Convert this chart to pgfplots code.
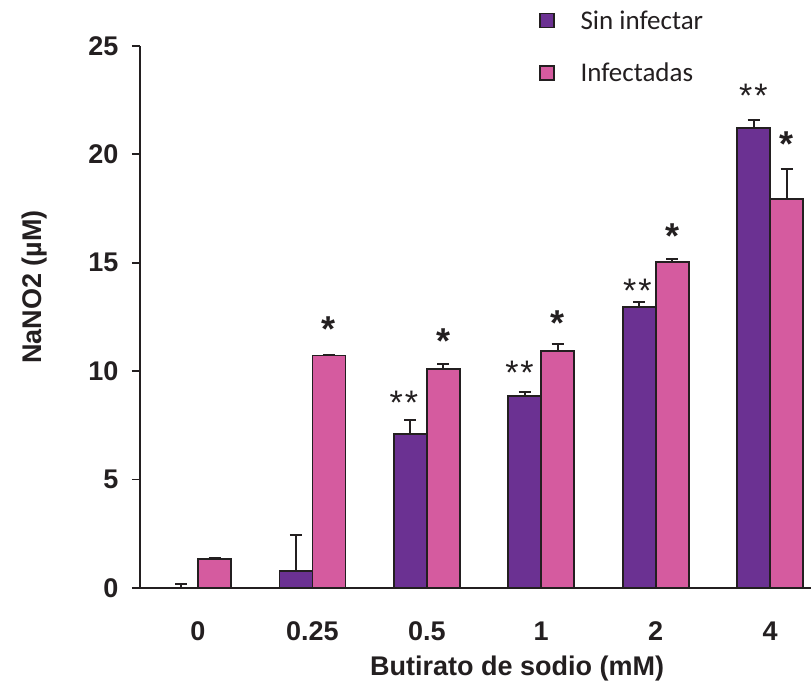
\documentclass[border=0pt]{standalone}
\usepackage{pgfplots}
\usepackage{pgfplotstable}
\pgfplotsset{compat=1.18}
\usepackage{fontspec}
\setmainfont{Liberation Sans}
\newfontfamily\carlito{Carlito}
\definecolor{barpurple}{HTML}{6B3192}
\definecolor{barpink}{HTML}{D55B9F}
\definecolor{ink}{HTML}{231F20}

\pgfplotstableread{
x y e
0 0.00 0.18
1 0.80 1.64
2 7.10 0.65
3 8.87 0.18
4 12.96 0.22
5 21.20 0.37
}\sininf
\pgfplotstableread{
x y e
0 1.34 0.03
1 10.72 0.03
2 10.09 0.24
3 10.93 0.32
4 15.04 0.15
5 17.94 1.40
}\infect

\begin{document}
\begin{tikzpicture}
\useasboundingbox (0,0) rectangle (811bp,681bp);
\begin{axis}[
  at={(140bp,93bp)}, anchor=south west,
  scale only axis, width=671bp, height=542bp,
  xmin=-0.507, xmax=5.358, ymin=0, ymax=25,
  axis x line*=bottom, axis y line*=left,
  axis line style={ink, line width=1.8bp},
  ytick={0,5,...,25},
  xtick={0,...,5}, xticklabels={0,0.25,0.5,1,2,4},
  tick align=outside, major tick length=8bp,
  ytick style={ink, line width=1.8bp}, xtick style={draw=none},
  ticklabel style={font=\fontsize{27bp}{30bp}\selectfont\bfseries, text=ink},
  xticklabel style={yshift=-22bp},
  yticklabel style={xshift=-10bp},
  /pgf/number format/assume math mode=true,
  ybar, bar width=0.2885,
  xlabel={Butirato de sodio (mM)},
  ylabel={NaNO2 (µM)},
  label style={font=\fontsize{27bp}{30bp}\selectfont\bfseries, text=ink},
  xlabel style={at={(axis description cs:0.562,-0.149)}, anchor=center},
  ylabel style={at={(axis description cs:-0.1565,0.555)}, anchor=center},
  legend style={at={(axis description cs:0.590,1.073)}, anchor=north west,
    draw=none, fill=none, font=\fontsize{27bp}{30bp}\selectfont\carlito,
    row sep=28bp, text=ink,
    /tikz/every odd column/.append style={column sep=24bp}},
  legend cell align=left,
  legend image code/.code={\draw[#1, draw=ink, line width=1.5bp] (0bp,-7bp) rectangle (14bp,7bp);},
  clip=false,
]
\addplot[fill=barpurple, draw=ink, line width=1.8bp, bar shift=-0.1443,
  error bars/.cd, y dir=plus, y explicit,
  error bar style={draw=ink, line width=2bp},
  error mark options={draw=ink, line width=2bp, mark size=6bp, rotate=90}]
  table[x=x, y=y, y error=e] {\sininf};
\addlegendentry{Sin infectar}
\addplot[fill=barpink, draw=ink, line width=1.8bp, bar shift=0.1443,
  error bars/.cd, y dir=plus, y explicit,
  error bar style={draw=ink, line width=2bp},
  error mark options={draw=ink, line width=2bp, mark size=6bp, rotate=90}]
  table[x=x, y=y, y error=e] {\infect};
\addlegendentry{Infectadas}

% significance markers
\begin{scope}[every node/.style={text=ink, inner sep=0pt, anchor=base}]
\node[font=\fontsize{36bp}{40bp}\selectfont\bfseries] at (axis cs:1.1443,11.37) {*};
\node[font=\fontsize{36bp}{40bp}\selectfont\bfseries] at (axis cs:2.1443,10.81) {*};
\node[font=\fontsize{36bp}{40bp}\selectfont\bfseries] at (axis cs:3.1443,11.64) {*};
\node[font=\fontsize{36bp}{40bp}\selectfont\bfseries] at (axis cs:4.1443,15.65) {*};
\node[font=\fontsize{36bp}{40bp}\selectfont\bfseries] at (axis cs:5.1443,19.90) {*};
\node[font=\fontsize{34bp}{38bp}\selectfont] at (axis cs:1.8,8.00) {*\kern2bp*};
\node[font=\fontsize{34bp}{38bp}\selectfont] at (axis cs:2.81,9.39) {*\kern2bp*};
\node[font=\fontsize{34bp}{38bp}\selectfont] at (axis cs:3.84,13.19) {*\kern2bp*};
\node[font=\fontsize{34bp}{38bp}\selectfont] at (axis cs:4.855,22.18) {*\kern2bp*};
\end{scope}
\end{axis}
\end{tikzpicture}
\end{document}
